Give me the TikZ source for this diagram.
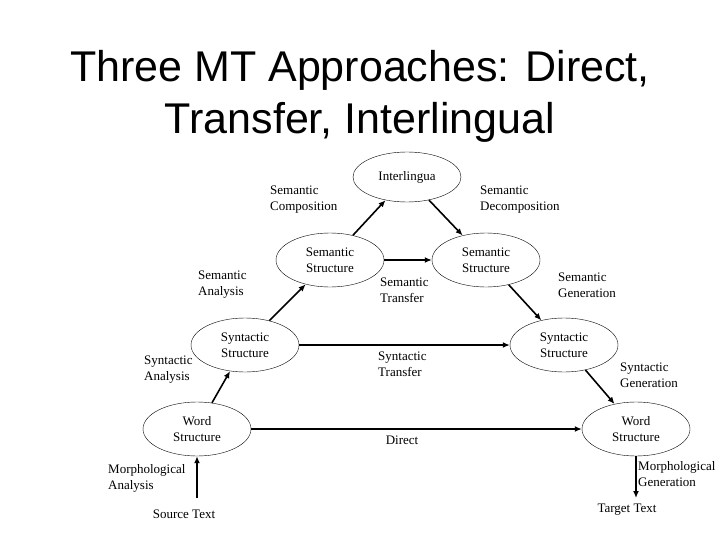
\documentclass[tikz,border=0pt]{standalone}
\usepackage{fontspec}
\setmainfont{Liberation Serif}
\newfontfamily\titlefont{Liberation Sans}
\usetikzlibrary{arrows.meta,shapes.geometric}
\begin{document}
\begin{tikzpicture}[x=1pt,y=-1pt,
  ell/.style={draw,ellipse,minimum width=108pt,minimum height=54pt,align=center,font=\fontsize{13}{16}\selectfont,inner sep=0pt},
  lbl/.style={align=left,anchor=west,font=\fontsize{13}{16}\selectfont,inner sep=0pt},
  arr/.style={line width=1.6pt,-{Latex[length=7pt,width=6pt]}}]
\useasboundingbox (0,0) rectangle (720,540);
\node[font=\titlefont\fontsize{43}{52}\selectfont,align=center] (title) at (360,96) {Three MT Approaches: Direct,\\Transfer, Interlingual};
\node[ell,minimum height=50pt] (il) at (407,177) {Interlingua};
\node[ell] (seml) at (330,260) {Semantic\\Structure};
\node[ell] (semr) at (486,260) {Semantic\\Structure};
\node[ell] (synl) at (245,345) {Syntactic\\Structure};
\node[ell] (synr) at (564,345) {Syntactic\\Structure};
\node[ell] (wl) at (197,429) {Word\\Structure};
\node[ell] (wr) at (636,429) {Word\\Structure};
\node[font=\fontsize{13}{16}\selectfont] (src) at (184,514) {Source Text};
\node[font=\fontsize{13}{16}\selectfont] (tgt) at (627,510) {Target Text};
\coordinate (srcp) at (197,498);
\coordinate (tgtp) at (636,498);
\draw[arr] (srcp) -- (wl.south);
\draw[arr] (wr.south) -- (tgtp);
\draw[arr] (wl) -- (synl);
\draw[arr] (synl) -- (seml);
\draw[arr] (seml) -- (il);
\draw[arr] (il) -- (semr);
\draw[arr] (semr) -- (synr);
\draw[arr] (synr) -- (wr);
\draw[arr] (seml.east) -- (semr.west);
\draw[arr] (synl.east) -- (synr.west);
\draw[arr] (wl.east) -- (wr.west);
\node[lbl] (l1) at (270,200) {Semantic\\Composition};
\node[lbl] (l2) at (480,200) {Semantic\\Decomposition};
\node[lbl] (l3) at (198,285) {Semantic\\Analysis};
\node[lbl] (l4) at (380,290) {Semantic\\Transfer};
\node[lbl] (l5) at (558,285) {Semantic\\Generation};
\node[lbl] (l6) at (144,370) {Syntactic\\Analysis};
\node[lbl] (l7) at (378,364) {Syntactic\\Transfer};
\node[lbl] (l8) at (620,375) {Syntactic\\Generation};
\node[font=\fontsize{13}{16}\selectfont] (l9) at (402,440) {Direct};
\node[lbl] (l10) at (108,478) {Morphological\\Analysis};
\node[lbl] (l11) at (638,474) {Morphological\\Generation};
\end{tikzpicture}
\end{document}
